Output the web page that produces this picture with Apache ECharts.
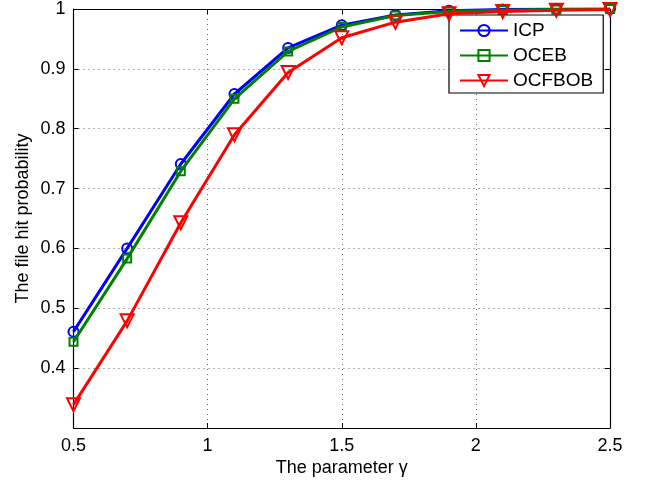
<!DOCTYPE html>
<html><head><meta charset="utf-8">
<script src="https://cdn.jsdelivr.net/npm/echarts@6/dist/echarts.min.js"></script>
<style>html,body{margin:0;padding:0;background:#fff}#c{width:645px;height:482px}</style>
</head><body><div id="c"></div>
<script>
const gammaValues = [0.5, 0.7, 0.9, 1.1, 1.3, 1.5, 1.7, 1.9, 2.1, 2.3, 2.5];
const icp    = [0.461, 0.600, 0.741, 0.858, 0.935, 0.973, 0.990, 0.997, 0.999, 1.000, 1.000];
const oceb   = [0.444, 0.583, 0.729, 0.850, 0.929, 0.970, 0.989, 0.996, 0.998, 0.999, 1.000];
const ocfbob = [0.339, 0.479, 0.643, 0.790, 0.894, 0.952, 0.978, 0.992, 0.996, 0.998, 0.999];
const seriesNames = ['ICP', 'OCEB', 'OCFBOB'];
const seriesColors = ['#0000ff', '#008000', '#ff0000'];
const xTicks = [0.5, 1, 1.5, 2, 2.5];

const FONT = 'Liberation Sans, Arial, sans-serif';
const chart = echarts.init(document.getElementById('c'));
const pair = arr => gammaValues.map((x, i) => [x, arr[i]]);
const tri = 'path://M0,0 L10,0 L5,9 Z';
const symbols = ['circle', 'rect', tri];
const sizes = [10, 8, 13];
const datas = [icp, oceb, ocfbob];

const grid = {left: 73.5, top: 6, right: 35, bottom: 52.5};
const gridLine = {show: true, lineStyle: {color: '#666', type: [1, 4], width: 1}};
option = {
  animation: false,
  backgroundColor: '#fff',
  grid: grid,
  xAxis: [{
    type: 'value', min: 0.5, max: 2.5, interval: 0.5,
    name: 'The parameter γ', nameLocation: 'middle', nameGap: 31, nameMoveOverlap: false,
    nameTextStyle: {fontFamily: FONT, fontSize: 18, color: '#000'},
    axisLine: {show: true, lineStyle: {color: '#000', width: 1.2}},
    axisTick: {show: true, inside: true, length: 5, lineStyle: {color: '#000'}},
    axisLabel: {fontFamily: FONT, fontSize: 18, color: '#000', margin: 9},
    splitLine: gridLine
  }, {
    type: 'value', position: 'top', min: 0.5, max: 2.5, interval: 0.5,
    axisLine: {show: true, lineStyle: {color: '#000', width: 1.2}},
    axisTick: {show: true, inside: true, length: 5, lineStyle: {color: '#000'}},
    axisLabel: {show: false}, splitLine: {show: false}
  }],
  yAxis: [{
    type: 'value', min: 0.3, max: 1, interval: 0.1,
    name: 'The file hit probability', nameLocation: 'middle', nameGap: 41, nameMoveOverlap: false,
    nameTextStyle: {fontFamily: FONT, fontSize: 18, color: '#000'},
    axisLine: {show: true, lineStyle: {color: '#000', width: 1.2}},
    axisTick: {show: true, inside: true, length: 5, lineStyle: {color: '#000'}},
    axisLabel: {fontFamily: FONT, fontSize: 18, color: '#000', margin: 8,
      formatter: v => v < 0.35 ? '' : String(Math.round(v * 10) / 10)},
    splitLine: gridLine
  }, {
    type: 'value', position: 'right', min: 0.3, max: 1, interval: 0.1,
    axisLine: {show: true, lineStyle: {color: '#000', width: 1.2}},
    axisTick: {show: true, inside: true, length: 5, lineStyle: {color: '#000'}},
    axisLabel: {show: false}, splitLine: {show: false}
  }],
  legend: {
    orient: 'vertical', left: 449, top: 15,
    backgroundColor: '#fff', borderColor: '#000', borderWidth: 1.2,
    padding: [6, 10, 3, 10], itemGap: 6, itemWidth: 48, itemHeight: 14,
    textStyle: {fontFamily: FONT, fontSize: 19, color: '#000'},
    data: seriesNames
  },
  series: seriesNames.map((n, i) => ({
    name: n, type: 'line', data: pair(datas[i]),
    symbol: symbols[i], symbolSize: sizes[i], showSymbol: true,
    lineStyle: {color: seriesColors[i], width: 3},
    itemStyle: {color: 'rgba(255,255,255,0)', borderColor: seriesColors[i], borderWidth: 2},
    z: 2 + i
  }))
};
chart.setOption(option);
</script></body></html>
